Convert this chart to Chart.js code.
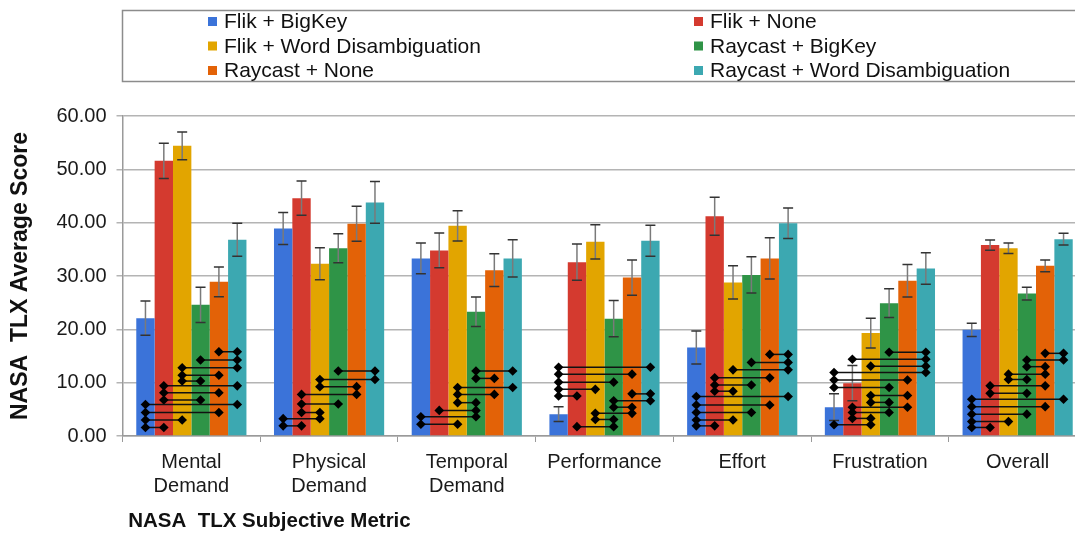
<!DOCTYPE html>
<html lang="en">
  <head>
    <meta charset="UTF-8" />
    <title>NASA TLX</title>
    <script src="https://cdn.jsdelivr.net/npm/chart.js"></script>
    <style>
      html, body { margin: 0; padding: 0; background: #fff; overflow: hidden; }
      #wrap { width: 1090px; height: 535px; }
    </style>
  </head>
  <body>
    <div id="wrap"><canvas id="tlx" width="1090" height="535"></canvas></div>

    <script>
      // categories
      const metrics = [
        ["Mental", "Demand"],
        ["Physical", "Demand"],
        ["Temporal", "Demand"],
        "Performance",
        "Effort",
        "Frustration",
        "Overall",
      ];
      const seriesNames = [
        "Flik + BigKey",
        "Flik + None",
        "Flik + Word Disambiguation",
        "Raycast + BigKey",
        "Raycast + None",
        "Raycast + Word Disambiguation",
      ];
      const seriesColors = ["#3b73d9", "#d43a2f", "#e2a500", "#2f9447", "#e36207", "#3ca8b1"];

      // average scores
      const flikBigKey = [22.1, 38.9, 33.3, 4.1, 16.6, 5.4, 19.9];
      const flikNone = [51.6, 44.6, 34.8, 32.6, 41.2, 9.9, 35.8];
      const flikWord = [54.4, 32.3, 39.4, 36.4, 28.8, 19.3, 35.2];
      const raycastBigKey = [24.6, 35.2, 23.3, 22.0, 30.2, 24.9, 26.7];
      const raycastNone = [28.9, 39.8, 31.1, 29.7, 33.3, 29.1, 31.9];
      const raycastWord = [36.8, 43.8, 33.3, 36.6, 39.9, 31.4, 36.9];

      // error bar half lengths
      const errFlikBigKey = [3.2, 3.0, 2.9, 1.4, 3.1, 2.5, 1.25];
      const errFlikNone = [3.3, 3.2, 3.25, 3.4, 3.55, 3.3, 0.95];
      const errFlikWord = [2.6, 3.0, 2.85, 3.2, 3.1, 2.8, 1.0];
      const errRaycastBigKey = [3.3, 2.7, 2.75, 3.4, 3.4, 2.7, 1.2];
      const errRaycastNone = [2.8, 3.3, 3.05, 3.3, 3.85, 3.05, 1.1];
      const errRaycastWord = [3.1, 3.9, 3.5, 2.9, 2.85, 2.95, 1.1];

      // y axis ticks
      const yTicks = [0, 10, 20, 30, 40, 50, 60];

      // significant pairs per metric: [series a, series b, height]
      const sigMental = [[4,5,15.8],[3,5,14.25],[2,5,12.8],[2,4,11.4],[2,3,10.3],[1,5,9.4],[1,4,8.1],[1,3,6.75],[0,5,5.9],[0,4,4.4],[0,2,3.0],[0,1,1.6]];
      const sigPhysical = [[3,5,12.2],[2,5,10.6],[2,4,9.25],[1,4,7.8],[1,3,6.0],[1,2,4.4],[0,2,3.25],[0,1,1.9]];
      const sigTemporal = [[3,5,12.2],[3,4,10.8],[2,5,9.1],[2,4,7.8],[2,3,6.25],[1,3,4.8],[0,3,3.6],[0,2,2.2]];
      const sigPerformance = [[0,5,12.9],[0,4,11.6],[0,3,10.1],[0,2,8.75],[0,1,7.5],[4,5,7.9],[3,5,6.6],[3,4,5.4],[2,4,4.25],[2,3,3.1],[1,3,1.75]];
      const sigEffort = [[4,5,15.3],[3,5,13.8],[2,5,12.4],[1,4,10.9],[1,3,9.55],[1,2,8.4],[0,5,7.4],[0,4,5.8],[0,3,4.4],[0,2,3.0],[0,1,1.9]];
      const sigFrustration = [[3,5,15.7],[1,5,14.4],[2,5,13.1],[0,5,11.9],[0,4,10.5],[0,3,9.1],[2,4,7.6],[2,3,6.3],[1,4,5.4],[1,3,4.4],[1,2,3.3],[0,2,2.1]];
      const sigOverall = [[4,5,15.5],[3,5,14.25],[3,4,13.0],[2,4,11.6],[2,3,10.6],[1,4,9.4],[1,3,8.0],[0,5,6.9],[0,4,5.5],[0,3,4.1],[0,2,2.7],[0,1,1.6]];

      const seriesValues = [flikBigKey, flikNone, flikWord, raycastBigKey, raycastNone, raycastWord];
      const seriesErrors = [errFlikBigKey, errFlikNone, errFlikWord, errRaycastBigKey, errRaycastNone, errRaycastWord];
      const sigLinks = [sigMental, sigPhysical, sigTemporal, sigPerformance, sigEffort, sigFrustration, sigOverall];

      const FONT = "'Liberation Sans', Arial, sans-serif";

      // legend box, two columns
      const boxLegend = {
        id: "boxLegend",
        afterDraw(chart) {
          const ctx = chart.ctx;
          ctx.save();
          ctx.strokeStyle = "#8c8c8c";
          ctx.lineWidth = 1.5;
          ctx.strokeRect(122.5, 10.5, 1000, 71);
          ctx.font = "21px " + FONT;
          ctx.textBaseline = "middle";
          const colX = [208, 694];
          const rowY = [21.5, 46, 70.5];
          seriesNames.forEach((name, i) => {
            const x = colX[i % 2];
            const y = rowY[Math.floor(i / 2)];
            ctx.fillStyle = seriesColors[i];
            ctx.fillRect(x, y - 4.5, 9, 9);
            ctx.fillStyle = "#111";
            ctx.fillText(name, x + 16, y + 1);
          });
          ctx.restore();
        },
      };

      // error bars + significance connectors
      const overlay = {
        id: "overlay",
        afterDatasetsDraw(chart) {
          const ctx = chart.ctx;
          const y = chart.scales.y;
          ctx.save();
          // error bars
          seriesErrors.forEach((errs, s) => {
            const meta = chart.getDatasetMeta(s);
            meta.data.forEach((bar, c) => {
              const v = seriesValues[s][c];
              const top = y.getPixelForValue(v + errs[c]);
              const bot = y.getPixelForValue(v - errs[c]);
              ctx.strokeStyle = "#7a7a7a";
              ctx.lineWidth = 1.5;
              ctx.beginPath();
              ctx.moveTo(bar.x, top);
              ctx.lineTo(bar.x, bot);
              ctx.stroke();
              ctx.strokeStyle = "#333";
              ctx.beginPath();
              ctx.moveTo(bar.x - 5, top);
              ctx.lineTo(bar.x + 5, top);
              ctx.moveTo(bar.x - 5, bot);
              ctx.lineTo(bar.x + 5, bot);
              ctx.stroke();
            });
          });
          // connectors
          const diamond = (px, py) => {
            ctx.beginPath();
            ctx.moveTo(px, py - 4.8);
            ctx.lineTo(px + 4.8, py);
            ctx.lineTo(px, py + 4.8);
            ctx.lineTo(px - 4.8, py);
            ctx.closePath();
            ctx.fill();
          };
          ctx.fillStyle = "#000";
          ctx.strokeStyle = "#111";
          ctx.lineWidth = 1.5;
          sigLinks.forEach((links, c) => {
            links.forEach(([a, b, h]) => {
              const xa = chart.getDatasetMeta(a).data[c].x;
              const xb = chart.getDatasetMeta(b).data[c].x;
              const py = y.getPixelForValue(h);
              ctx.beginPath();
              ctx.moveTo(xa, py);
              ctx.lineTo(xb, py);
              ctx.stroke();
              diamond(xa, py);
              diamond(xb, py);
            });
          });
          ctx.restore();
        },
      };

      const ctx = document.getElementById("tlx").getContext("2d");
      new Chart(ctx, {
        type: "bar",
        data: {
          labels: metrics,
          datasets: seriesNames.map((name, i) => ({
            label: name,
            data: seriesValues[i],
            backgroundColor: seriesColors[i],
            borderWidth: 0,
            categoryPercentage: 0.8,
            barPercentage: 1.0,
          })),
        },
        options: {
          responsive: false,
          animation: false,
          layout: { padding: { top: 116, right: 3.5, left: 0, bottom: 0 } },
          plugins: {
            legend: { display: false },
            tooltip: { enabled: false },
          },
          scales: {
            x: {
              grid: {
                offset: true,
                drawOnChartArea: false,
                drawTicks: true,
                tickLength: 6,
                color: "#9a9a9a",
              },
              border: { color: "#9a9a9a", width: 1.5 },
              ticks: {
                color: "#1a1a1a",
                font: { family: FONT, size: 20 },
                maxRotation: 0,
                autoSkip: false,
                padding: 8,
              },
              title: {
                display: true,
                text: " NASA  TLX Subjective Metric",
                align: "start",
                color: "#111",
                font: { family: FONT, size: 20.5, weight: "bold" },
                padding: { top: 4, bottom: 1 },
              },
              afterFit(scale) {
                scale.height = 99;
              },
            },
            y: {
              min: 0,
              max: 60,
              afterBuildTicks(scale) {
                scale.ticks = yTicks.map((v) => ({ value: v }));
              },
              grid: { color: "#b4b4b4", lineWidth: 1.5, tickLength: 6 },
              border: { color: "#9a9a9a", width: 1.5 },
              ticks: {
                color: "#1a1a1a",
                font: { family: FONT, size: 20 },
                padding: 10,
                callback: (v) => Number(v).toFixed(2),
              },
              title: {
                display: true,
                text: "NASA  TLX Average Score",
                color: "#111",
                font: { family: FONT, size: 23, weight: "bold" },
                padding: { top: 7, bottom: 0 },
              },
              afterFit(scale) {
                scale.width = 122.5;
              },
            },
          },
        },
        plugins: [boxLegend, overlay],
      });
    </script>
  </body>
</html>
